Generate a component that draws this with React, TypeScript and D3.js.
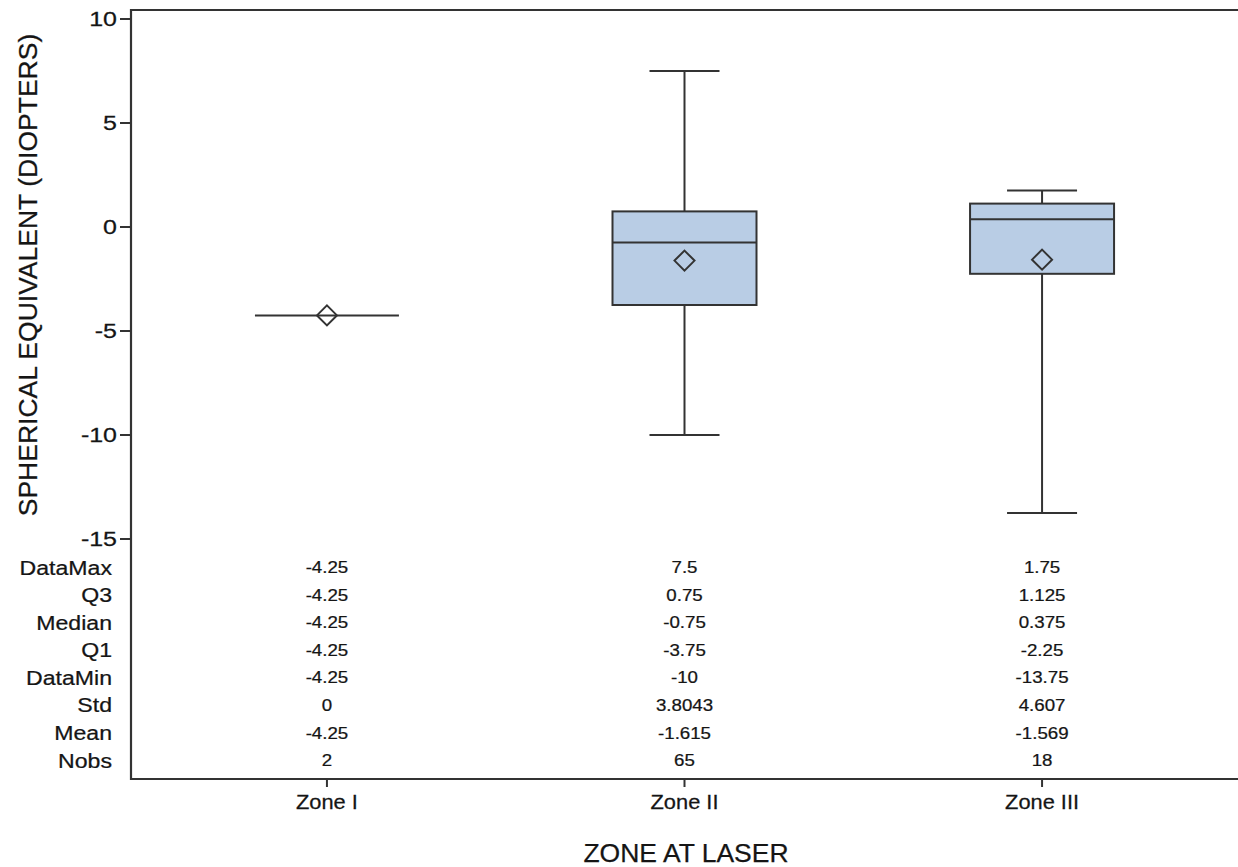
import React from 'react';
import * as d3 from 'd3';

const zones = ['Zone I', 'Zone II', 'Zone III'];
const dataMax = [-4.25, 7.5, 1.75];
const q3 = [-4.25, 0.75, 1.125];
const median = [-4.25, -0.75, 0.375];
const q1 = [-4.25, -3.75, -2.25];
const dataMin = [-4.25, -10, -13.75];
const stdDev = [0, 3.8043, 4.607];
const mean = [-4.25, -1.615, -1.569];
const nobs = [2, 65, 18];
const yTicks = [10, 5, 0, -5, -10, -15];
const statLabels = ['DataMax', 'Q3', 'Median', 'Q1', 'DataMin', 'Std', 'Mean', 'Nobs'];
const statRows = [dataMax, q3, median, q1, dataMin, stdDev, mean, nobs];

const W = 1238;
const H = 867;
const FL = 131;
const FT = 10;
const FB = 779;
const FONT = 'Arial, "Liberation Sans", sans-serif';
const TXT = '#151515';
const LINE = '#333';
const BOXFILL = '#b9cde5';

function SText({ x, y, size, sx = 1, anchor = 'middle', children, dy = '0' }: any) {
  return (
    <text
      transform={`translate(${x},${y}) scale(${sx},1)`}
      fontSize={size}
      fontFamily={FONT}
      fill={TXT}
      stroke={TXT}
      strokeWidth={0.25}
      textAnchor={anchor}
      dy={dy}
    >
      {children}
    </text>
  );
}

export default function App() {
  const y = d3.scaleLinear().domain([-15, 10]).range([539, 19]);
  const x = d3.scalePoint<string>().domain(zones).range([FL, 1238]).padding(0.548);
  const rowY = d3.scalePoint<string>().domain(statLabels).range([567, 760]);
  const halfBox = 72;
  const halfCap = 35;
  const dia = 10;

  return (
    <svg width={W} height={H} style={{ position: 'absolute', left: 0, top: 0, background: '#fff' }}>
      <rect x={0} y={0} width={W} height={H} fill="#fff" />
      {zones.map((z, i) => {
        const cx = x(z)!;
        const yMax = y(dataMax[i]);
        const yQ3 = y(q3[i]);
        const yMed = y(median[i]);
        const yQ1 = y(q1[i]);
        const yMin = y(dataMin[i]);
        const yMean = y(mean[i]);
        return (
          <g key={z}>
            <line x1={cx} x2={cx} y1={yMax} y2={yQ3} stroke={LINE} strokeWidth={2} />
            <line x1={cx} x2={cx} y1={yQ1} y2={yMin} stroke={LINE} strokeWidth={2} />
            {yMax !== yQ3 && (
              <line x1={cx - halfCap} x2={cx + halfCap} y1={yMax} y2={yMax} stroke={LINE} strokeWidth={2} />
            )}
            {yMin !== yQ1 && (
              <line x1={cx - halfCap} x2={cx + halfCap} y1={yMin} y2={yMin} stroke={LINE} strokeWidth={2} />
            )}
            <rect
              x={cx - halfBox}
              y={yQ3}
              width={halfBox * 2}
              height={Math.max(0, yQ1 - yQ3)}
              fill={BOXFILL}
              stroke={LINE}
              strokeWidth={2}
            />
            <line x1={cx - halfBox} x2={cx + halfBox} y1={yMed} y2={yMed} stroke={LINE} strokeWidth={2} />
            <path
              d={`M${cx},${yMean - dia}L${cx + dia},${yMean}L${cx},${yMean + dia}L${cx - dia},${yMean}Z`}
              fill="none"
              stroke={LINE}
              strokeWidth={2}
            />
          </g>
        );
      })}
      <path d={`M${W + 5},${FT}H${FL}V${FB}H${W + 5}`} fill="none" stroke={LINE} strokeWidth={2.2} />
      {yTicks.map((t) => (
        <g key={t}>
          <line x1={FL - 11} x2={FL} y1={y(t)} y2={y(t)} stroke={LINE} strokeWidth={2} />
          <SText x={117} y={y(t)} size={20} sx={1.25} anchor="end" dy="0.36em">
            {String(t)}
          </SText>
        </g>
      ))}
      {zones.map((z) => (
        <g key={z}>
          <line x1={x(z)} x2={x(z)} y1={FB} y2={FB + 8} stroke={LINE} strokeWidth={2} />
          <SText x={x(z)} y={809} size={21} sx={1.04}>
            {z}
          </SText>
        </g>
      ))}
      {statLabels.map((s, r) => (
        <g key={s}>
          <SText x={112} y={rowY(s)} size={21} sx={1.1} anchor="end" dy="0.36em">
            {s}
          </SText>
          {zones.map((z, i) => (
            <SText key={z} x={x(z)} y={rowY(s)} size={17} sx={1.1} dy="0.36em">
              {String(statRows[r][i])}
            </SText>
          ))}
        </g>
      ))}
      <SText x={686} y={862} size={26.5}>
        ZONE AT LASER
      </SText>
      <text
        transform={`translate(37,275) rotate(-90)`}
        fontSize={26.5}
        fontFamily={FONT}
        fill={TXT}
        stroke={TXT}
        strokeWidth={0.25}
        textAnchor="middle"
      >
        SPHERICAL EQUIVALENT (DIOPTERS)
      </text>
    </svg>
  );
}
